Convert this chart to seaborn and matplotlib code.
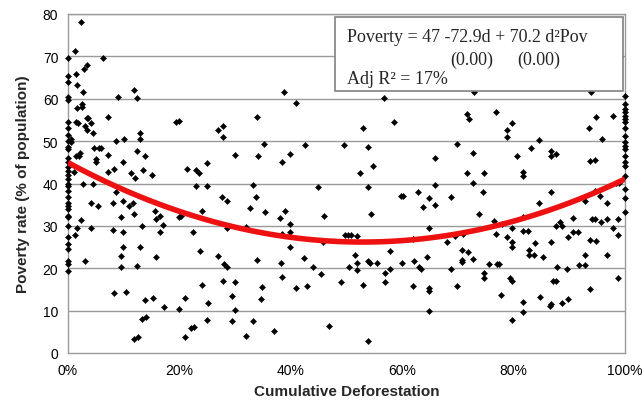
import matplotlib
matplotlib.use("Agg")
import matplotlib.pyplot as plt
from matplotlib.patches import Rectangle
from matplotlib.ticker import FuncFormatter
import seaborn as sns
import pandas as pd

# ---- data ----
# points sitting on the 0% deforestation edge
edge0_poverty = [69.7, 65.4, 64.0, 60.3, 59.8, 54.5, 53.0, 51.5, 50.0, 48.5, 48.1, 46.0, 45.0,
                 44.0, 43.0, 42.0, 41.0, 40.0, 39.5, 38.3, 36.7, 35.5, 34.7, 34.0, 32.4, 32.0,
                 30.0, 27.3, 25.7, 24.5, 21.8, 21.0, 19.4]
# points sitting on the 100% deforestation edge
edge100_poverty = [60.7, 58.7, 57.5, 56.8, 56.0, 55.2, 54.4, 53.2, 51.3, 49.7, 48.9, 48.1, 46.5,
                   45.0, 44.2, 41.8, 38.7, 36.6, 33.2]
# interior points: cumulative deforestation (%) and poverty rate (%)
inner_deforestation = [
    2.3, 1.3, 6.2, 3.4, 2.8, 1.4, 1.7, 2.7, 11.9, 9.0, 12.4, 1.6, 2.5, 2.6, 7.2, 3.4, 3.6, 1.4, 1.8,
    3.1, 4.1, 3.4, 4.5, 0.5, 0.5, 8.7, 10.0, 12.9, 12.9, 4.7, 5.5, 6.0, 2.2, 1.5, 2.0, 5.0, 5.0,
    7.1, 12.4, 13.9, 9.9, 1.1, 7.2, 8.3, 11.3, 12.0, 13.5, 15.0, 2.7, 4.4,
    8.6, 4.1, 5.4, 8.0, 9.9, 10.9, 11.7, 9.5, 11.8, 2.3, 1.7, 4.1, 1.3, 8.1, 9.8, 13.2, 9.9, 12.9,
    9.5, 3.1, 9.5, 12.4, 8.3, 10.4, 13.8, 15.3, 13.3, 14.0, 11.9, 12.6,
    19.4, 20.0, 27.0, 27.9, 27.9, 30.0, 21.3, 23.0, 23.6, 25.0, 23.0, 25.0,
    27.6, 28.6, 15.6, 15.8, 16.6, 17.1, 20.0, 20.3, 24.0, 32.6, 16.6, 22.4, 28.5, 32.0, 15.8, 23.7,
    27.0, 28.0, 28.5, 24.0, 27.9, 30.0, 21.0, 25.1, 29.4, 17.2, 20.0, 30.0, 25.0, 29.4, 22.0, 22.7,
    21.0, 32.0,
    38.8, 40.9, 33.9, 35.2, 42.5, 49.6, 34.2, 39.9, 38.5, 33.3, 44.8,
    33.7, 35.4, 38.1, 39.0, 46.0, 39.9, 39.9, 38.5, 39.9, 45.8, 33.9, 38.2, 42.4, 43.9, 38.4, 45.4,
    49.0, 34.8, 40.9, 42.9, 34.6, 33.3, 37.0, 46.9,
    56.7, 52.9, 58.6, 53.9, 65.9, 54.8, 52.4, 53.9, 65.9,
    59.8, 60.2, 62.8, 64.9, 63.8, 65.9, 54.4, 49.7, 50.3, 50.8, 51.8, 61.9, 64.9, 51.5, 57.8, 64.4,
    50.5, 51.8, 53.9, 54.2, 55.4, 59.9, 62.1, 63.0, 63.3, 51.8, 57.8, 56.9, 53.0, 56.9, 61.9, 64.8,
    64.8, 64.9, 53.9,
    72.9, 71.6, 72.0, 76.8, 79.8, 78.8, 78.8, 69.8, 72.8, 83.1, 80.6, 71.6, 74.7, 81.7, 81.7, 72.8,
    68.8, 74.5, 73.8, 81.6, 76.4, 78.0, 79.7, 81.6, 82.6, 69.5, 70.9, 76.8, 78.8, 68.0, 79.8, 79.8,
    70.8, 71.9, 82.8, 82.8, 83.7, 83.8, 70.8, 70.8, 72.8, 75.6, 77.0, 77.3, 68.8, 74.7, 74.7, 79.4,
    79.8, 69.9, 77.7, 81.7, 81.6, 79.8,
    93.9, 94.8, 97.9, 93.6, 95.8, 84.6, 86.7, 86.7, 87.6, 93.7, 94.6, 98.4, 99.0,
    86.8, 84.6, 92.8, 94.6, 95.5, 96.8, 90.7, 94.0, 94.7, 95.7, 96.8, 98.7, 87.7, 88.3, 88.7, 97.8,
    90.7, 91.6, 89.7, 98.8, 93.7, 94.8, 86.8, 85.2, 92.8, 96.8, 87.8, 89.5, 91.8, 92.8, 98.8, 87.0,
    87.7, 93.7, 84.7, 89.8, 88.7, 86.5, 86.8,
]
inner_poverty = [
    78.2, 71.2, 69.6, 67.9, 67.1, 65.8, 63.2, 61.6, 62.0, 60.3, 60.1, 57.7, 58.7, 58.1, 55.8, 55.4,
    55.5, 54.4, 54.3, 53.6, 54.2, 52.7, 52.0, 50.5, 49.7, 50.1, 50.5, 51.8, 50.5, 48.4, 48.4, 48.4,
    47.3, 46.5, 46.5, 45.7, 45.0, 46.7, 47.7, 46.5, 45.1, 42.8, 42.6, 43.4, 42.4, 41.4, 43.2, 42.0,
    39.9, 39.9,
    37.9, 35.5, 34.6, 35.5, 35.9, 34.7, 35.3, 32.2, 32.8, 31.4, 29.6, 29.6, 27.8, 29.1, 28.5, 30.0,
    24.9, 24.9, 22.9, 21.8, 20.4, 20.6, 14.1, 14.3, 12.6, 13.0, 8.0, 8.6, 3.3, 3.7,
    54.6, 54.8, 52.6, 53.6, 51.0, 46.7, 43.4, 43.2, 42.5, 44.8, 39.5, 39.5,
    36.9, 35.8, 33.6, 31.6, 32.4, 30.3, 32.0, 32.4, 33.4, 34.2, 28.6, 28.6, 29.6, 29.8, 22.6, 24.1,
    22.8, 21.0, 20.4, 16.1, 17.1, 16.7, 12.9, 11.9, 13.5, 10.8, 10.5, 10.1, 7.8, 7.6, 6.0, 6.2,
    3.7, 3.9,
    61.6, 59.0, 55.7, 49.4, 49.1, 49.1, 46.5, 46.9, 45.0, 39.6, 39.1,
    36.7, 33.3, 31.8, 33.6, 32.4, 30.4, 28.6, 28.1, 25.1, 26.2, 21.9, 21.2, 22.4, 20.4, 18.0, 18.6,
    16.8, 15.5, 15.3, 15.9, 12.7, 7.6, 5.3, 6.3,
    60.1, 53.1, 54.4, 48.5, 46.1, 44.2, 42.5, 39.1, 39.7,
    37.1, 37.1, 38.1, 36.6, 34.5, 34.9, 32.9, 27.9, 27.9, 27.9, 27.7, 27.0, 29.6, 23.1, 24.0, 22.6,
    20.4, 21.2, 21.6, 21.2, 21.2, 21.2, 21.6, 20.4, 19.8, 19.6, 19.8, 18.8, 16.0, 16.8, 15.9, 15.3,
    14.7, 10.0, 2.9,
    61.5, 56.5, 55.3, 56.9, 54.2, 52.7, 50.9, 49.3, 47.3, 48.3, 46.5, 42.4, 42.4, 42.8, 41.8, 40.2,
    36.9, 38.1, 32.9, 32.2, 31.2, 30.4, 29.4, 28.9, 28.7, 27.7, 28.1, 28.1, 27.4, 26.3, 26.2, 24.9,
    24.4, 23.9, 24.4, 23.2, 23.2, 25.9, 21.9, 21.5, 22.2, 21.1, 21.1, 20.9, 19.8, 18.8, 17.7, 17.7,
    17.1, 15.9, 13.8, 12.1, 9.6, 7.9,
    61.5, 55.6, 56.0, 53.0, 50.5, 50.3, 47.7, 46.5, 46.9, 45.2, 45.5, 40.2, 40.2,
    37.9, 35.3, 35.8, 38.3, 37.1, 35.3, 31.8, 31.7, 31.7, 31.0, 31.6, 31.7, 29.9, 31.0, 30.0, 29.6,
    28.6, 28.5, 27.3, 27.9, 26.7, 26.5, 26.1, 22.6, 23.2, 23.1, 20.4, 19.8, 20.8, 20.8, 17.6, 16.9,
    16.9, 15.1, 13.1, 12.7, 11.7, 11.2, 11.6,
]

x_ticks = [0, 20, 40, 60, 80, 100]
y_ticks = [0, 10, 20, 30, 40, 50, 60, 70, 80]
equation_line = "Poverty = 47 -72.9d + 70.2 d\u00b2Pov"
pvalue_labels = ["(0.00)", "(0.00)"]
r2_line = "Adj R\u00b2 = 17%"

# ---- build table ----
df = pd.DataFrame({
    "deforestation": [0.0] * len(edge0_poverty) + inner_deforestation + [100.0] * len(edge100_poverty),
    "poverty": edge0_poverty + inner_poverty + edge100_poverty,
})

sns.set_style("white")
plt.rcParams["font.family"] = ["Liberation Sans", "DejaVu Sans"]

fig = plt.figure(figsize=(6.42, 4.10), dpi=100)
ax = fig.add_axes([68 / 642, 1 - 354 / 410, (625 - 68) / 642, (354 - 15) / 410])

grid_color = "#9a9a9a"
for yv in y_ticks[1:]:
    ax.axhline(yv, color=grid_color, lw=1.0, zorder=0)

sns.scatterplot(data=df, x="deforestation", y="poverty", ax=ax, marker="D", s=10,
                color="black", edgecolor="black", linewidth=0.3, clip_on=False, zorder=3,
                legend=False)
sns.regplot(data=df, x="deforestation", y="poverty", ax=ax, order=2, scatter=False, ci=None,
            color="#ee1111", line_kws={"lw": 4.0, "zorder": 4, "solid_capstyle": "butt"})

ax.set_xlim(0, 100)
ax.set_ylim(0, 80)
ax.set_xticks(x_ticks)
ax.set_yticks(y_ticks)
ax.xaxis.set_major_formatter(FuncFormatter(lambda v, p: f"{v:.0f}%"))
ax.tick_params(axis="both", direction="out", length=4, width=1, color=grid_color,
               labelsize=10, labelcolor="black", pad=3)
for side in ["left", "bottom", "right", "top"]:
    ax.spines[side].set_visible(True)
    ax.spines[side].set_color(grid_color)
    ax.spines[side].set_linewidth(1.0)

ax.set_xlabel("Cumulative Deforestation", fontsize=11, fontweight="bold", labelpad=5)
ax.set_ylabel("Poverty rate (% of population)", fontsize=11, fontweight="bold", labelpad=9)

# annotation box
bx0, bx1 = (335 - 68) / 557, (623 - 68) / 557
by0, by1 = (354 - 92) / 339, (354 - 18) / 339
ax.add_patch(Rectangle((bx0, by0), bx1 - bx0, by1 - by0, transform=ax.transAxes,
                       facecolor="white", edgecolor="#808080", lw=1.2, zorder=6, clip_on=False))
serif = ["Liberation Serif", "DejaVu Serif"]
ax.text((347 - 68) / 557, (354 - 38) / 339, equation_line, transform=ax.transAxes,
        family=serif, fontsize=13, va="center", ha="left", zorder=7)
ax.text((450 - 68) / 557, (354 - 60) / 339, pvalue_labels[0], transform=ax.transAxes,
        family=serif, fontsize=13, va="center", ha="left", zorder=7)
ax.text((517 - 68) / 557, (354 - 60) / 339, pvalue_labels[1], transform=ax.transAxes,
        family=serif, fontsize=13, va="center", ha="left", zorder=7)
ax.text((347 - 68) / 557, (354 - 80) / 339, r2_line, transform=ax.transAxes,
        family=serif, fontsize=13, va="center", ha="left", zorder=7)

fig.savefig("out.png", dpi=100)
